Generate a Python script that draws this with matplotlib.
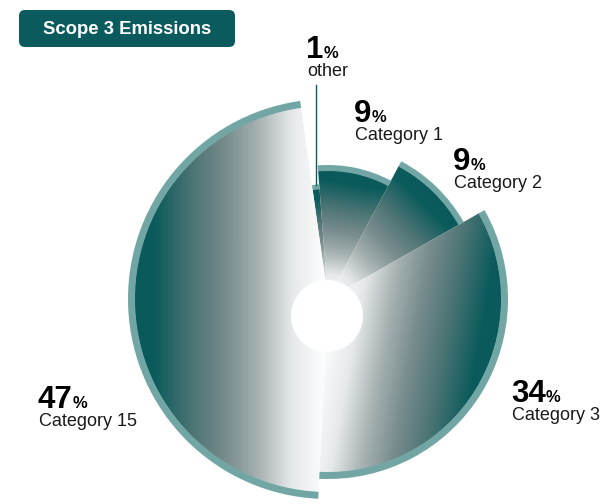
import numpy as np
import matplotlib.pyplot as plt
from matplotlib.patches import Wedge, Circle, FancyBboxPatch
from matplotlib.colors import LinearSegmentedColormap

# data
categories = ['other', 'Category 1', 'Category 2', 'Category 3', 'Category 15']
shares = [1, 9, 9, 34, 47]

# style
radii = [115, 134, 156, 180, 200]          # outer radius of each slice (px)
rim_w = [5, 6, 6, 7, 7]
grad_dir = [0, 10, 45, 100, 270]           # gradient direction, deg clockwise from top
label_xy = [(306, 58), (354, 122), (453, 170), (511, 402), (38, 408)]
start = -8                                  # deg clockwise from top
cx, cy = 328, 299
W, H = 605, 504

dark = '#0b5b5e'
rim_color = '#72a6a5'
cmap = LinearSegmentedColormap.from_list('fade', [
    (0.0, '#ffffff'), (0.18, '#e6e9ea'), (0.35, '#a6b1b2'), (0.51, '#788c8d'),
    (0.68, '#4c7474'), (0.87, '#0b5b5d'), (1.0, '#0a5a5c')])

plt.rcParams['font.family'] = ['Liberation Sans', 'DejaVu Sans']

fig = plt.figure(figsize=(W / 100, H / 100), dpi=100)
ax = fig.add_axes([0, 0, 1, 1])

ss = 2
xs = (np.arange(W * ss) + 0.5) / ss
ys = (np.arange(H * ss) + 0.5) / ss
X, Y = np.meshgrid(xs, ys)

bounds = start + 360 * np.concatenate([[0], np.cumsum(shares)]) / sum(shares)

for i, cat in enumerate(categories):
    a0, a1 = bounds[i], bounds[i + 1]
    r = radii[i]
    th = np.deg2rad(grad_dir[i] - 90)
    proj = (X - cx) * np.cos(th) + (Y - cy) * np.sin(th)
    t = np.clip(proj / r, 0, 1)
    im = ax.imshow(cmap(t), extent=(0, W, H, 0), origin='upper',
                   interpolation='bilinear', zorder=2)
    clip = Wedge((cx, cy), r - rim_w[i] + 0.5, a0 - 90, a1 - 90,
                 facecolor='none', edgecolor='none', transform=ax.transData)
    ax.add_patch(clip)
    im.set_clip_path(clip)
    ax.add_patch(Wedge((cx, cy), r, a0 - 90, a1 - 90, width=rim_w[i],
                       facecolor=rim_color, edgecolor='none', zorder=3))

# hole
ax.add_patch(Circle((327, 316), 36, facecolor='white', edgecolor='none', zorder=5))

# labels
renderer = fig.canvas.get_renderer()
for i, cat in enumerate(categories):
    x, y = label_xy[i]
    num = ax.text(x, y, str(shares[i]), fontsize=22.5, fontweight='bold',
                  color='black', va='baseline', ha='left', zorder=6)
    bb = num.get_window_extent(renderer)
    xe = ax.transData.inverted().transform((bb.x1, bb.y0))[0]
    ax.text(xe + 0.3, y, '%', fontsize=12, fontweight='bold', color='black',
            va='baseline', ha='left', zorder=6)
    ax.text(x + 1, y + 18, cat, fontsize=13, color='#1a1a1a',
            va='baseline', ha='left', zorder=6)

# leader line for "other"
mid = np.deg2rad((bounds[0] + bounds[1]) / 2)
lx = cx + radii[0] * np.sin(mid)
ly = cy - radii[0] * np.cos(mid)
ax.plot([lx, lx], [label_xy[0][1] + 27, ly], color=dark, lw=1, zorder=4)

# title box
ax.add_patch(FancyBboxPatch((19, 10), 216, 37, boxstyle='round,pad=0,rounding_size=6',
                            facecolor=dark, edgecolor='none', zorder=6))
ax.text(127, 29, 'Scope 3 Emissions', fontsize=13.3, fontweight='bold',
        color='white', ha='center', va='center', zorder=7)

ax.set_xlim(0, W)
ax.set_ylim(H, 0)
ax.set_aspect('auto')
ax.axis('off')
fig.savefig('out.png', dpi=100)
